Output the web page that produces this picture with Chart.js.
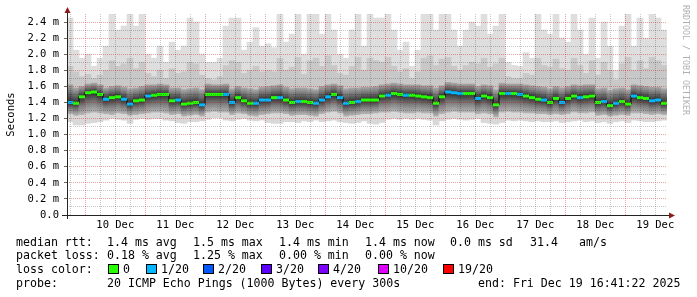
<!DOCTYPE html>
<html>
<head>
<meta charset="utf-8">
<script src="https://cdn.jsdelivr.net/npm/chart.js@4"></script>
<style>
html, body { margin: 0; padding: 0; background: #fff; }
#wrap { position: relative; width: 697px; height: 297px; overflow: hidden; }
canvas { position: absolute; left: 0; top: 0; }
.t { position: absolute; font-family: "DejaVu Sans Mono", monospace; font-size: 11.6px; line-height: 14px; white-space: pre; color: #000; }
.box { position: absolute; width: 11px; height: 10px; border: 1px solid #000; box-sizing: border-box; }
#wm { position: absolute; left: 681px; top: 5px; font-family: "DejaVu Sans Mono", monospace; font-size: 8.3px; color: #b0b0b0; writing-mode: vertical-rl; white-space: pre; }
</style>
</head>
<body>
<div id="wrap">
  <canvas id="chartCanvas" width="697" height="297"></canvas>
  <div id="wm">RRDTOOL / TOBI OETIKER</div>
  <span class="t" style="left:16px;top:235px">median rtt:</span>
  <span class="t" style="left:107px;top:235px">1.4 ms avg</span>
  <span class="t" style="left:193px;top:235px">1.5 ms max</span>
  <span class="t" style="left:279px;top:235px">1.4 ms min</span>
  <span class="t" style="left:365px;top:235px">1.4 ms now</span>
  <span class="t" style="left:450px;top:235px">0.0 ms sd</span>
  <span class="t" style="left:530px;top:235px">31.4</span>
  <span class="t" style="left:579px;top:235px">am/s</span>
  <span class="t" style="left:16px;top:248px">packet loss:</span>
  <span class="t" style="left:107px;top:248px">0.18 % avg</span>
  <span class="t" style="left:193px;top:248px">1.25 % max</span>
  <span class="t" style="left:279px;top:248px">0.00 % min</span>
  <span class="t" style="left:365px;top:248px">0.00 % now</span>
  <span class="t" style="left:16px;top:262px">loss color:</span>
  <div id="lossKey"></div>
  <span class="t" style="left:16px;top:276px">probe:</span>
  <span class="t" style="left:107px;top:276px">20 ICMP Echo Pings (1000 Bytes) every 300s</span>
  <span class="t" style="left:478px;top:276px">end: Fri Dec 19 16:41:22 2025</span>
</div>
<script>
// one value every 2.4 h, 100 steps ending Fri Dec 19 16:41:22 (values in ms)
const med = [1.40,1.39,1.47,1.52,1.53,1.50,1.44,1.46,1.47,1.44,
             1.38,1.42,1.43,1.48,1.49,1.50,1.50,1.42,1.43,1.38,
             1.39,1.40,1.37,1.50,1.50,1.50,1.50,1.40,1.46,1.42,
             1.39,1.39,1.43,1.43,1.46,1.46,1.43,1.40,1.41,1.41,
             1.40,1.39,1.43,1.47,1.50,1.46,1.39,1.40,1.41,1.43,
             1.43,1.43,1.48,1.49,1.51,1.50,1.49,1.49,1.48,1.47,
             1.46,1.39,1.47,1.53,1.52,1.51,1.51,1.51,1.45,1.48,
             1.46,1.37,1.51,1.51,1.51,1.50,1.48,1.46,1.44,1.43,
             1.40,1.45,1.40,1.45,1.48,1.46,1.47,1.48,1.40,1.41,
             1.36,1.39,1.41,1.38,1.48,1.46,1.45,1.42,1.43,1.39];
// lost pings out of 20 (index into lossColors)
const loss = [1,0,0,0,0,0,1,0,0,1,
              1,0,0,1,0,0,0,0,1,0,
              0,0,1,0,0,0,1,1,0,0,
              0,1,1,1,0,1,0,0,1,0,
              0,1,1,1,0,1,1,0,1,0,
              0,0,0,1,0,0,1,0,0,0,
              0,0,0,1,1,1,0,0,1,0,
              0,0,0,1,0,1,0,0,0,1,
              0,0,1,0,0,1,0,0,0,1,
              0,1,0,0,1,0,0,1,1,0];
// smoke: lowest ping, lower mid, upper dark, upper mid, highest ping
const lo = [1.16,1.12,1.12,1.14,1.15,1.16,1.18,1.20,1.19,1.18,
            1.14,1.19,1.20,1.19,1.20,1.20,1.18,1.17,1.15,1.14,
            1.16,1.16,1.17,1.19,1.21,1.21,1.18,1.17,1.19,1.20,
            1.18,1.17,1.18,1.15,1.14,1.14,1.16,1.16,1.15,1.17,
            1.16,1.18,1.16,1.17,1.18,1.16,1.15,1.14,1.15,1.17,
            1.14,1.13,1.15,1.19,1.20,1.19,1.20,1.19,1.20,1.19,
            1.18,1.12,1.17,1.19,1.20,1.19,1.18,1.19,1.20,1.15,
            1.14,1.13,1.15,1.18,1.17,1.18,1.17,1.16,1.17,1.16,
            1.16,1.17,1.15,1.16,1.17,1.18,1.16,1.17,1.15,1.16,
            1.14,1.16,1.17,1.15,1.18,1.17,1.16,1.16,1.17,1.18];
const lo2 = [1.25,1.23,1.24,1.26,1.27,1.26,1.25,1.24,1.26,1.25,
             1.23,1.24,1.25,1.26,1.27,1.27,1.26,1.24,1.25,1.22,
             1.23,1.24,1.22,1.27,1.28,1.27,1.27,1.24,1.26,1.25,
             1.23,1.22,1.24,1.25,1.26,1.26,1.25,1.23,1.24,1.24,
             1.23,1.22,1.25,1.27,1.28,1.26,1.22,1.23,1.24,1.25,
             1.25,1.26,1.27,1.27,1.28,1.27,1.26,1.26,1.27,1.26,
             1.26,1.22,1.25,1.27,1.28,1.27,1.27,1.27,1.25,1.26,
             1.25,1.21,1.27,1.28,1.27,1.27,1.26,1.26,1.25,1.25,
             1.24,1.25,1.24,1.25,1.27,1.26,1.26,1.27,1.23,1.24,
             1.22,1.23,1.24,1.23,1.26,1.26,1.25,1.24,1.25,1.24];
const hi1 = [1.62,1.58,1.60,1.63,1.64,1.62,1.58,1.60,1.61,1.59,
             1.57,1.58,1.60,1.62,1.62,1.63,1.62,1.58,1.58,1.56,
             1.57,1.58,1.56,1.63,1.62,1.62,1.63,1.57,1.60,1.58,
             1.57,1.56,1.59,1.60,1.61,1.62,1.59,1.57,1.58,1.58,
             1.57,1.56,1.60,1.62,1.63,1.61,1.57,1.58,1.58,1.59,
             1.59,1.60,1.62,1.63,1.64,1.63,1.62,1.62,1.62,1.61,
             1.61,1.58,1.61,1.65,1.64,1.63,1.63,1.63,1.60,1.62,
             1.61,1.56,1.64,1.63,1.63,1.63,1.62,1.61,1.60,1.59,
             1.57,1.60,1.58,1.60,1.62,1.61,1.62,1.62,1.57,1.58,
             1.55,1.57,1.58,1.56,1.62,1.61,1.60,1.59,1.59,1.57];
const hi2 = [1.85,1.78,1.72,1.75,1.70,1.74,1.80,1.92,1.85,1.88,
             1.95,1.82,1.90,1.76,1.72,1.80,1.70,1.82,1.76,1.78,
             1.90,1.88,1.74,1.70,1.68,1.72,1.86,1.92,1.90,1.76,
             1.80,1.85,1.78,1.80,1.78,1.95,1.80,1.84,1.96,1.75,
             1.92,1.95,1.85,1.98,1.86,1.76,1.74,1.85,1.96,1.80,
             1.95,1.92,1.90,1.96,1.85,1.78,1.82,1.70,1.78,1.95,
             1.98,1.86,1.94,1.96,1.85,1.80,1.86,1.90,1.88,1.95,
             1.84,1.88,1.95,1.72,1.70,1.70,1.76,1.74,1.95,1.86,
             1.84,1.94,1.82,1.80,1.95,1.86,1.76,1.92,1.74,1.90,
             1.80,1.68,1.88,1.96,1.80,1.92,1.82,1.96,1.92,1.86];
const hi = [2.45,2.05,1.95,2.00,1.85,1.95,2.10,2.50,2.30,2.35,
            2.50,2.35,2.50,2.00,1.95,2.10,1.90,2.15,2.05,2.10,
            2.45,2.40,2.00,1.90,1.90,1.95,2.35,2.45,2.45,2.05,
            2.15,2.33,2.10,2.13,2.08,2.50,2.15,2.25,2.50,2.00,
            2.50,2.50,2.25,2.50,2.30,2.00,1.95,2.30,2.50,2.10,
            2.50,2.45,2.45,2.50,2.30,2.05,2.15,1.85,2.05,2.50,
            2.50,2.30,2.50,2.50,2.30,2.10,2.30,2.40,2.35,2.50,
            2.25,2.35,2.50,1.90,1.86,1.85,2.02,1.95,2.50,2.30,
            2.25,2.50,2.20,2.15,2.50,2.30,2.00,2.45,1.95,2.40,
            2.10,1.80,2.35,2.50,2.10,2.45,2.20,2.50,2.45,2.30];

const dayLabels = ['10 Dec','11 Dec','12 Dec','13 Dec','14 Dec','15 Dec','16 Dec','17 Dec','18 Dec','19 Dec'];
const lossLabels = ['0','1/20','2/20','3/20','4/20','10/20','19/20'];
const lossColors = ['#26ff00','#00b8ff','#0059ff','#5e00ff','#7e00ff','#dd00ff','#ff0000'];
const lossKeyX = [108, 146, 203, 261, 318, 378, 443];

// hours after 9 Dec 00:00
const START = 16 + 41 / 60 + 22 / 3600;
const STEP = 2.4;
const hours = med.map((_, i) => START + STEP * (i + 0.5));

const key = document.getElementById('lossKey');
lossLabels.forEach((lab, i) => {
    const b = document.createElement('div');
    b.className = 'box';
    b.style.left = lossKeyX[i] + 'px';
    b.style.top = '264px';
    b.style.background = lossColors[i];
    key.appendChild(b);
    const s = document.createElement('span');
    s.className = 't';
    s.style.left = (lossKeyX[i] + 15) + 'px';
    s.style.top = '262px';
    s.textContent = lab;
    key.appendChild(s);
});

function gradFill(lowArr, highArr, stops) {
    return (c) => {
        const chart = c.chart;
        if (c.type !== 'data' || !chart.chartArea) return stops[stops.length - 1];
        const y = chart.scales.y;
        const i = c.dataIndex;
        const g = chart.ctx.createLinearGradient(0, y.getPixelForValue(lowArr[i]), 0, y.getPixelForValue(highArr[i]));
        stops.forEach((col, k) => g.addColorStop(k / (stops.length - 1), col));
        return g;
    };
}

function band(lowArr, highArr, color) {
    return {
        type: 'bar',
        data: hours.map((h, i) => ({ x: h, y: [lowArr[i], highArr[i]] })),
        backgroundColor: color,
        borderWidth: 0,
        grouped: false,
        barPercentage: 1,
        categoryPercentage: 1,
        order: 10
    };
}

const majorGrid = 'rgba(200,0,0,0.35)';
const minorGrid = 'rgba(0,0,0,0.22)';
const tickFont = { family: 'DejaVu Sans Mono', size: 10.5 };

const gridHours = [];
for (let h = 18; h < START + 240; h += 6) gridHours.push(h);
const yTicks = [];
for (let k = 0; k <= 24; k++) yTicks.push(k / 10);

const axisPlugin = {
    id: 'axes',
    afterDraw(chart) {
        const { ctx, chartArea: a } = chart;
        ctx.save();
        ctx.strokeStyle = '#222';
        ctx.lineWidth = 1;
        ctx.beginPath();
        ctx.moveTo(a.left - 5, a.bottom + 0.5);
        ctx.lineTo(a.right + 4, a.bottom + 0.5);
        ctx.moveTo(a.left + 0.5, a.bottom + 4);
        ctx.lineTo(a.left + 0.5, a.top - 3);
        ctx.stroke();
        ctx.fillStyle = '#8b1a1a';
        ctx.beginPath();
        ctx.moveTo(a.right + 2, a.bottom - 2.5);
        ctx.lineTo(a.right + 8, a.bottom + 0.5);
        ctx.lineTo(a.right + 2, a.bottom + 3.5);
        ctx.closePath();
        ctx.fill();
        ctx.beginPath();
        ctx.moveTo(a.left - 2.5, a.top - 1);
        ctx.lineTo(a.left + 0.5, a.top - 7);
        ctx.lineTo(a.left + 3.5, a.top - 1);
        ctx.closePath();
        ctx.fill();
        ctx.restore();
    }
};

const ctx = document.getElementById('chartCanvas').getContext('2d');
new Chart(ctx, {
    type: 'bar',
    data: {
        datasets: [
            band(lo, lo2, '#d8d8d8'),
            band(lo2, med, gradFill(lo2, med, ['#bababa', '#7c7c7c', '#2c2c2c'])),
            band(med, hi1, gradFill(med, hi1, ['#2c2c2c', '#6c6c6c', '#a8a8a8'])),
            band(hi1, hi2, '#c8c8c8'),
            band(hi2, hi, '#dedede'),
            {
                type: 'line',
                data: hours.map((h, i) => ({ x: h, y: med[i] })),
                stepped: 'middle',
                borderColor: '#000',
                borderWidth: 1,
                pointRadius: 0,
                order: 2
            },
            {
                type: 'line',
                data: hours.map((h, i) => ({ x: h, y: med[i] })),
                showLine: false,
                pointStyle: 'line',
                pointRadius: 3,
                pointBorderWidth: 3,
                pointBorderColor: loss.map(l => lossColors[l]),
                pointBackgroundColor: loss.map(l => lossColors[l]),
                order: 1
            }
        ]
    },
    options: {
        responsive: false,
        devicePixelRatio: 1,
        animation: false,
        events: [],
        layout: { padding: { left: 0, right: 30, top: 14, bottom: 62 } },
        plugins: { legend: { display: false }, tooltip: { enabled: false } },
        scales: {
            x: {
                type: 'linear',
                min: START,
                max: START + 240,
                offset: false,
                afterBuildTicks: s => { s.ticks = gridHours.map(v => ({ value: v })); },
                afterFit: s => { s.height = 20; },
                ticks: {
                    autoSkip: false,
                    maxRotation: 0,
                    padding: 4,
                    font: tickFont,
                    color: '#000',
                    callback: v => (v % 24 === 12 ? dayLabels[(v - 36) / 24] : '')
                },
                grid: {
                    z: 1,
                    offset: false,
                    drawTicks: false,
                    color: c => (c.tick && c.tick.value % 24 === 0 ? majorGrid : minorGrid)
                },
                border: { display: false, dash: [1, 1] }
            },
            y: {
                min: 0,
                max: 2.5,
                afterBuildTicks: s => { s.ticks = yTicks.map(v => ({ value: v })); },
                afterFit: s => { s.width = 67; },
                ticks: {
                    autoSkip: false,
                    padding: 5,
                    font: tickFont,
                    color: '#000',
                    callback: v => {
                        const k = Math.round(v * 10);
                        if (k % 2) return '';
                        return k === 0 ? '0.0' : v.toFixed(1) + ' m';
                    }
                },
                grid: {
                    z: 1,
                    tickLength: 3,
                    tickBorderDash: [],
                    tickColor: c => (c.tick && Math.round(c.tick.value * 10) % 2 === 0 ? '#666' : 'rgba(0,0,0,0)'),
                    color: c => (c.tick && Math.round(c.tick.value * 10) % 2 === 0 ? majorGrid : minorGrid)
                },
                border: { display: false, dash: [1, 1] },
                title: {
                    display: true,
                    text: 'Seconds',
                    color: '#000',
                    font: { family: 'DejaVu Sans Mono', size: 10.5 },
                    padding: { top: 5, bottom: 0 }
                }
            }
        }
    },
    plugins: [axisPlugin]
});
</script>
</body>
</html>
